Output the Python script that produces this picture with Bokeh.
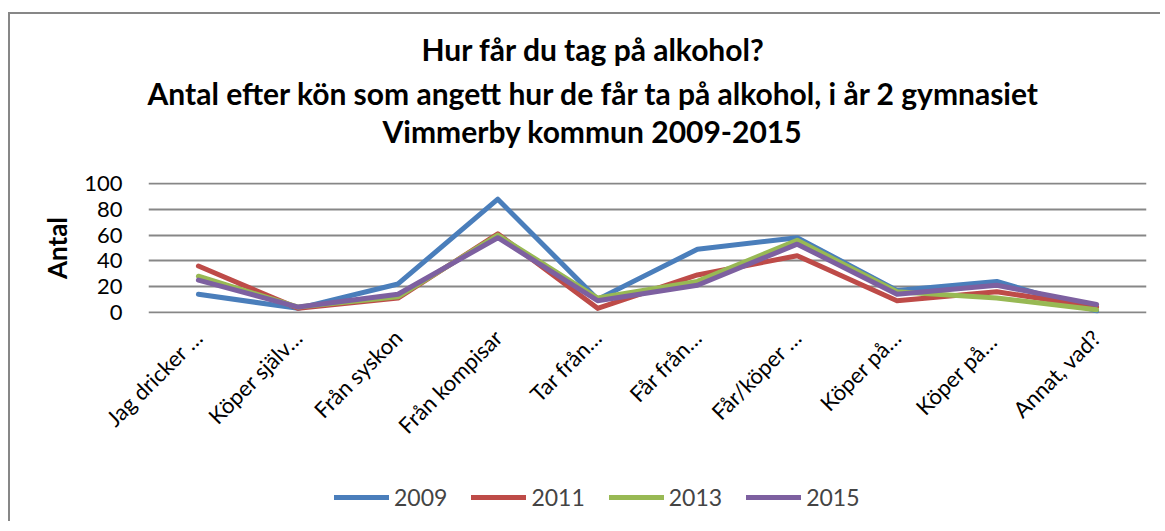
from bokeh.plotting import figure
from bokeh.layouts import column
from bokeh.models import Range1d, Title, Legend, LegendItem, FixedTicker
from bokeh.embed import file_html
from bokeh.resources import INLINE
from math import pi

categories = ["Jag dricker …", "Köper själv…", "Från syskon", "Från kompisar", "Tar från…",
              "Får från…", "Får/köper …", "Köper på…", "Köper på… ", "Annat, vad?"]
years = ["2009", "2011", "2013", "2015"]
v2009 = [14, 3, 22, 88, 10, 49, 58, 17, 24, 1]
v2011 = [36, 3, 11, 61, 3, 29, 44, 9, 16, 4]
v2013 = [28, 4, 12, 60, 11, 24, 56, 16, 11, 2]
v2015 = [25, 4, 14, 58, 9, 21, 53, 14, 21, 6]
colors = ["#4A7EBB", "#BE4B48", "#98B954", "#7D60A0"]
yticks = [0, 20, 40, 60, 80, 100]

FONT = "Lato"
series = [v2009, v2011, v2013, v2015]

p = figure(x_range=categories, y_range=Range1d(-1, 101),
           width=1150, height=459,
           min_border_left=138, min_border_right=14, min_border_top=168, min_border_bottom=160,
           output_backend="svg", toolbar_location=None)
p.outline_line_color = None
p.background_fill_color = "white"
p.border_fill_color = "white"

for vals, c in zip(series, colors):
    p.line(categories, vals, line_color=c, line_width=5, line_join="round", line_cap="round")

# titles (added innermost first)
tstyle = dict(align="left", text_font=FONT, text_font_size="30px", text_font_style="bold",
              text_color="black")
spacer = Title(text=" ", text_font_size="1px", standoff=31)
t3 = Title(text="Vimmerby kommun 2009-2015", standoff=0, offset=234, **tstyle)
t2 = Title(text="Antal efter kön som angett hur de får ta på alkohol, i år 2 gymnasiet",
           standoff=0, offset=-1, **tstyle)
t1 = Title(text="Hur får du tag på alkohol?", standoff=12, offset=273, **tstyle)
p.add_layout(spacer, "above")
p.add_layout(t3, "above")
p.add_layout(t2, "above")
p.add_layout(t1, "above")

p.yaxis.ticker = FixedTicker(ticks=yticks)
p.yaxis.axis_line_color = None
p.yaxis.major_tick_line_color = None
p.yaxis.minor_tick_line_color = None
p.yaxis.major_label_text_font = FONT
p.yaxis.major_label_text_font_size = "22px"
p.yaxis.major_label_text_color = "black"
p.yaxis.major_label_standoff = 20
p.yaxis.axis_label = "Antal"
p.yaxis.axis_label_text_font = FONT
p.yaxis.axis_label_text_font_size = "26px"
p.yaxis.axis_label_text_font_style = "bold"
p.yaxis.axis_label_text_color = "black"
p.yaxis.axis_label_standoff = 8

p.xaxis.axis_line_color = None
p.xaxis.major_tick_line_color = None
p.xaxis.minor_tick_line_color = None
p.xaxis.major_label_orientation = pi / 4
p.xaxis.major_label_text_font = FONT
p.xaxis.major_label_text_font_size = "22px"
p.xaxis.major_label_text_color = "black"
p.xaxis.major_label_standoff = 14

p.xgrid.grid_line_color = None
p.ygrid.grid_line_color = "#878787"
p.ygrid.grid_line_width = 2

# legend strip (same series, drawn out of view so only the legend shows)
p2 = figure(x_range=p.x_range, y_range=Range1d(500, 600), width=1150, height=48,
            min_border=0, output_backend="svg", toolbar_location=None)
p2.axis.visible = False
p2.grid.visible = False
p2.outline_line_color = None
p2.border_fill_color = "white"
rs = []
for vals, c in zip(series, colors):
    rs.append(p2.line(categories, vals, line_color=c, line_width=5, line_cap="round"))

legend = Legend(items=[LegendItem(label=y, renderers=[r]) for y, r in zip(years, rs)],
                orientation="horizontal", location=(186, 10))
legend.label_text_font = FONT
legend.label_text_font_size = "23px"
legend.glyph_width = 55
legend.label_standoff = 5
legend.spacing = 24
legend.padding = 0
legend.margin = 0
legend.border_line_color = None
legend.background_fill_alpha = 0
p2.add_layout(legend, "center")

layout = column(p, p2, spacing=0)
layout.styles = {"border-left": "2px solid #878787", "border-top": "2px solid #878787",
                 "margin-top": "12px", "margin-left": "8px"}

open("out.html", "w").write(file_html(layout, INLINE))
